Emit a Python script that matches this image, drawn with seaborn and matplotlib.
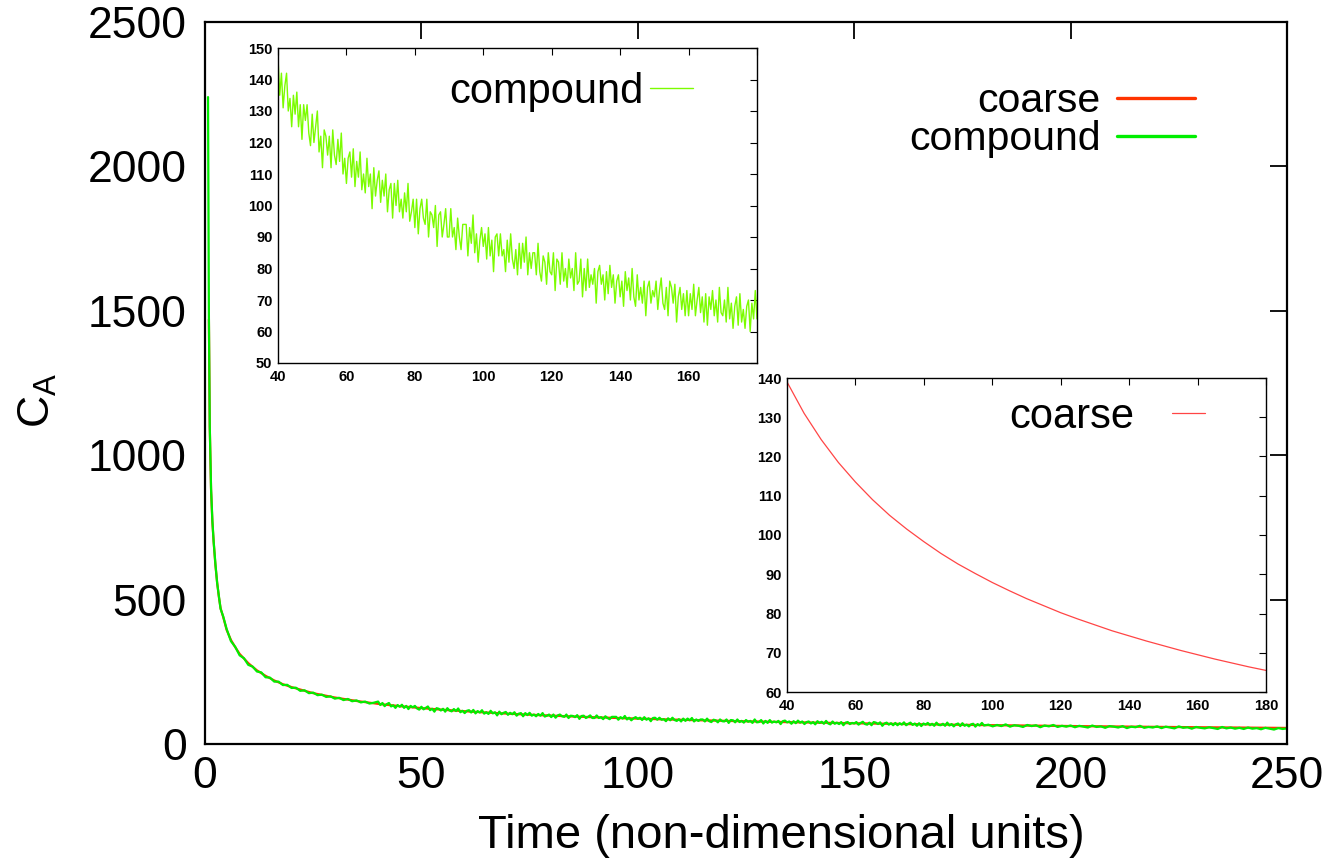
import numpy as np
import pandas as pd
import matplotlib
matplotlib.use("Agg")
import matplotlib.pyplot as plt
import seaborn as sns

# ---------------- data ----------------
coarse_time = [0.9, 1.1, 1.4, 1.7, 2.0, 2.4, 2.8, 3.2, 3.6, 4.2, 5, 6, 7, 8, 10, 12, 14, 16, 18, 20, 25, 30, 35,
               40, 45, 50, 55, 60, 65, 70, 75, 80, 85, 90, 95, 100, 105, 110, 115, 120, 125, 130, 135,
               140, 145, 150, 155, 160, 165, 170, 175, 180,
               190, 200, 210, 220, 230, 240, 250]
coarse_ca = [1470, 1100, 880, 770, 700, 620, 560, 510, 470, 440, 395, 360, 335, 312, 280, 255, 236, 220, 207, 197,
             176, 161, 149,
             139, 131, 124.3, 118.5, 113.5, 109, 105, 101.5, 98.3, 95.3, 92.6, 90.2, 87.9, 85.8, 83.8, 82, 80.2,
             78.6, 77.1, 75.6, 74.3, 73, 71.8, 70.6, 69.5, 68.4, 67.4, 66.4, 65.5,
             63.8, 62.2, 60.7, 59.3, 58, 56.8, 55.6]

compound_early_time = [0.7, 0.9, 1.1, 1.4, 1.7, 2.0, 2.4, 2.8, 3.2, 3.6, 4.2, 5, 6, 7, 8, 9, 10, 11, 12, 13, 14, 15,
                       16, 17, 18, 19, 20, 21, 22, 23, 24, 25, 26, 27, 28, 29, 30, 31, 32, 33, 34, 35, 36, 37, 38, 39]
compound_early_ca = [2240, 1480, 1100, 885, 775, 700, 625, 558, 512, 468, 442, 398, 356, 336, 307, 297, 274, 268,
                     251, 248, 231, 230, 216, 216, 204, 205, 194, 195, 184, 186, 176, 178, 169, 171, 163, 165,
                     157, 160, 152, 156, 148, 151, 144, 147, 140, 143]

compound_mid_time = np.arange(40.0, 180.01, 0.5)
compound_mid_ca = [
    147, 135, 142, 131, 138, 142, 130, 134, 125, 135,
    129, 136, 125, 132, 121, 132, 127, 132, 123, 119,
    129, 120, 125, 130, 117, 122, 112, 124, 122, 116,
    122, 112, 124, 116, 113, 121, 114, 123, 110, 115,
    107, 115, 117, 109, 118, 106, 114, 109, 117, 105,
    110, 104, 115, 106, 110, 99, 112, 103, 108, 111,
    101, 108, 103, 110, 98, 105, 107, 96, 107, 100,
    108, 98, 102, 96, 104, 98, 107, 95, 98, 102,
    93, 102, 91, 99, 102, 96, 94, 102, 90, 98,
    97, 93, 100, 87, 97, 98, 90, 94, 99, 90,
    90, 99, 90, 93, 86, 96, 90, 86, 94, 94,
    94, 84, 93, 88, 97, 85, 91, 82, 89, 93,
    87, 91, 83, 93, 84, 89, 79, 90, 91, 84,
    91, 84, 86, 79, 89, 82, 91, 83, 80, 86,
    78, 88, 80, 88, 82, 90, 78, 85, 80, 85,
    85, 78, 88, 79, 76, 84, 82, 75, 85, 79,
    78, 85, 73, 83, 82, 75, 85, 76, 80, 74,
    83, 77, 80, 73, 85, 75, 76, 83, 71, 80,
    73, 83, 74, 78, 75, 80, 69, 79, 81, 75,
    78, 70, 79, 72, 81, 74, 78, 69, 76, 78,
    71, 76, 68, 79, 73, 77, 70, 80, 71, 68,
    78, 70, 74, 69, 76, 65, 74, 76, 69, 73,
    71, 76, 67, 73, 77, 69, 67, 74, 65, 76,
    74, 69, 75, 63, 71, 74, 67, 72, 65, 73,
    65, 72, 67, 75, 65, 70, 74, 66, 71, 63,
    72, 62, 71, 67, 73, 65, 70, 63, 74, 66,
    65, 70, 63, 74, 64, 69, 61, 68, 71, 62,
    72, 63, 67, 61, 68, 70, 60, 69, 64, 73,
    64]

compound_tail_time = np.arange(181.0, 250.01, 1.0)
compound_tail_ca = [
    67, 61, 66, 62, 68, 60, 65, 63, 59, 66,
    62, 65, 58, 64, 61, 66, 59, 63, 60, 64,
    58, 63, 60, 57, 64, 59, 61, 56, 62, 60,
    57, 62, 55, 60, 58, 63, 56, 59, 57, 61,
    55, 60, 57, 54, 61, 56, 58, 53, 59, 56,
    54, 58, 55, 52, 59, 54, 57, 53, 56, 52,
    57, 53, 55, 51, 56, 53, 50, 55, 52, 54]

main_xticks = [0, 50, 100, 150, 200, 250]
main_yticks = [0, 500, 1000, 1500, 2000, 2500]
inset_xticks = [40, 60, 80, 100, 120, 140, 160, 180]
compound_inset_xlabels = ["40", "60", "80", "100", "120", "140", "160", ""]
coarse_inset_xlabels = ["40", "60", "80", "100", "120", "140", "160", "180"]
compound_inset_yticks = [50, 60, 70, 80, 90, 100, 110, 120, 130, 140, 150]
coarse_inset_yticks = [60, 70, 80, 90, 100, 110, 120, 130, 140]

series_labels = ["coarse", "compound"]

coarse_df = pd.DataFrame({"t": coarse_time, "ca": coarse_ca})
compound_df = pd.DataFrame({
    "t": np.concatenate([compound_early_time, compound_mid_time, compound_tail_time]),
    "ca": np.concatenate([compound_early_ca, compound_mid_ca, compound_tail_ca]),
})

# ---------------- style ----------------
sns.set_theme(style="white")
plt.rcParams["font.family"] = ["Liberation Sans", "DejaVu Sans"]
plt.rcParams["mathtext.fontset"] = "custom"
plt.rcParams["mathtext.rm"] = "Liberation Sans"
plt.rcParams["mathtext.it"] = "Liberation Sans:italic"
plt.rcParams["text.color"] = "black"
plt.rcParams["axes.labelcolor"] = "black"
plt.rcParams["xtick.color"] = "black"
plt.rcParams["ytick.color"] = "black"
plt.rcParams["axes.edgecolor"] = "black"

RED = "#ff3300"
GREEN = "#00ee00"
INSET_GREEN = "#7cfc00"
INSET_RED = "#ff4545"

W, H = 1327, 867
fig = plt.figure(figsize=(W / 100, H / 100), dpi=100)
fig.patch.set_facecolor("white")


def fig_rect(left, top, right, bottom):
    return [left / W, 1 - bottom / H, (right - left) / W, (bottom - top) / H]


# ---------------- main axes ----------------
ax = fig.add_axes(fig_rect(205, 22, 1287, 744))
sns.lineplot(data=coarse_df, x="t", y="ca", ax=ax, color=RED, lw=1.6,
             estimator=None, sort=False, label=series_labels[0])
sns.lineplot(data=compound_df, x="t", y="ca", ax=ax, color=GREEN, lw=1.6,
             estimator=None, sort=False, label=series_labels[1])
ax.set_xlim(0, 250)
ax.set_ylim(0, 2500)
ax.set_xticks(main_xticks)
ax.set_yticks(main_yticks)
ax.tick_params(axis="both", direction="in", length=12, width=1.3, top=True, right=True, colors="black")
ax.tick_params(axis="y", labelsize=32, pad=13)
ax.tick_params(axis="x", labelsize=32, pad=9)
for s in ax.spines.values():
    s.set_linewidth(1.6)
    s.set_color("black")
ax.set_xlabel("Time (non-dimensional units)", fontsize=34, color="black")
ax.set_ylabel(r"C$_{\mathregular{A}}$", fontsize=32, color="black")
ax.xaxis.set_label_coords((781 - 205) / 1082, (744 - 836) / 722)
ax.xaxis.label.set_verticalalignment("center")
ax.yaxis.set_label_coords((38 - 205) / 1082, (744 - 400) / 722)
ax.yaxis.label.set_verticalalignment("center")
ax.grid(False)

leg = ax.legend(loc="center right", bbox_to_anchor=(1195 / W, 1 - 120.5 / H),
                bbox_transform=fig.transFigure, frameon=False, markerfirst=False,
                borderpad=0, borderaxespad=0, fontsize=29.5, handlelength=1.9,
                handletextpad=0.4, labelspacing=0.0)
leg._legend_box._children[-1]._children[0].align = "right"
for ln in leg.get_lines():
    ln.set_linewidth(2.4)


def style_inset(a, xticks, xlabels, yticks):
    a.set_xticks(xticks)
    a.set_xticklabels(xlabels)
    a.set_yticks(yticks)
    a.tick_params(axis="both", direction="in", length=5, width=0.8, top=True, right=True,
                  labelsize=10.5, colors="black")
    a.tick_params(axis="x", pad=5)
    a.tick_params(axis="y", pad=4)
    for lbl in a.get_xticklabels() + a.get_yticklabels():
        lbl.set_fontweight("bold")
    for s in a.spines.values():
        s.set_linewidth(1.0)
        s.set_color("black")
    a.set_xlabel("")
    a.set_ylabel("")
    a.grid(False)
    a.set_facecolor("white")


# ---------------- inset: compound ----------------
ax1 = fig.add_axes(fig_rect(278, 48, 757, 363))
sns.lineplot(data=compound_df, x="t", y="ca", ax=ax1, color=INSET_GREEN, lw=1.0,
             estimator=None, sort=False, label=series_labels[1])
ax1.set_xlim(40, 180)
ax1.set_ylim(50, 150)
style_inset(ax1, inset_xticks, compound_inset_xlabels, compound_inset_yticks)
ax1.legend(loc="center right", bbox_to_anchor=(693 / W, 1 - 92 / H), bbox_transform=fig.transFigure,
           frameon=False, markerfirst=False, borderpad=0, borderaxespad=0, fontsize=30,
           handlelength=1.03, handletextpad=0.15)

# ---------------- inset: coarse ----------------
ax2 = fig.add_axes(fig_rect(787, 378, 1266, 692))
sns.lineplot(data=coarse_df, x="t", y="ca", ax=ax2, color=INSET_RED, lw=0.9,
             estimator=None, sort=False, label=series_labels[0])
ax2.set_xlim(40, 180)
ax2.set_ylim(60, 140)
style_inset(ax2, inset_xticks, coarse_inset_xlabels, coarse_inset_yticks)
ax2.legend(loc="center right", bbox_to_anchor=(1205 / W, 1 - 417 / H), bbox_transform=fig.transFigure,
           frameon=False, markerfirst=False, borderpad=0, borderaxespad=0, fontsize=30,
           handlelength=0.8, handletextpad=0.9)

fig.savefig("out.png", dpi=100, facecolor="white")
